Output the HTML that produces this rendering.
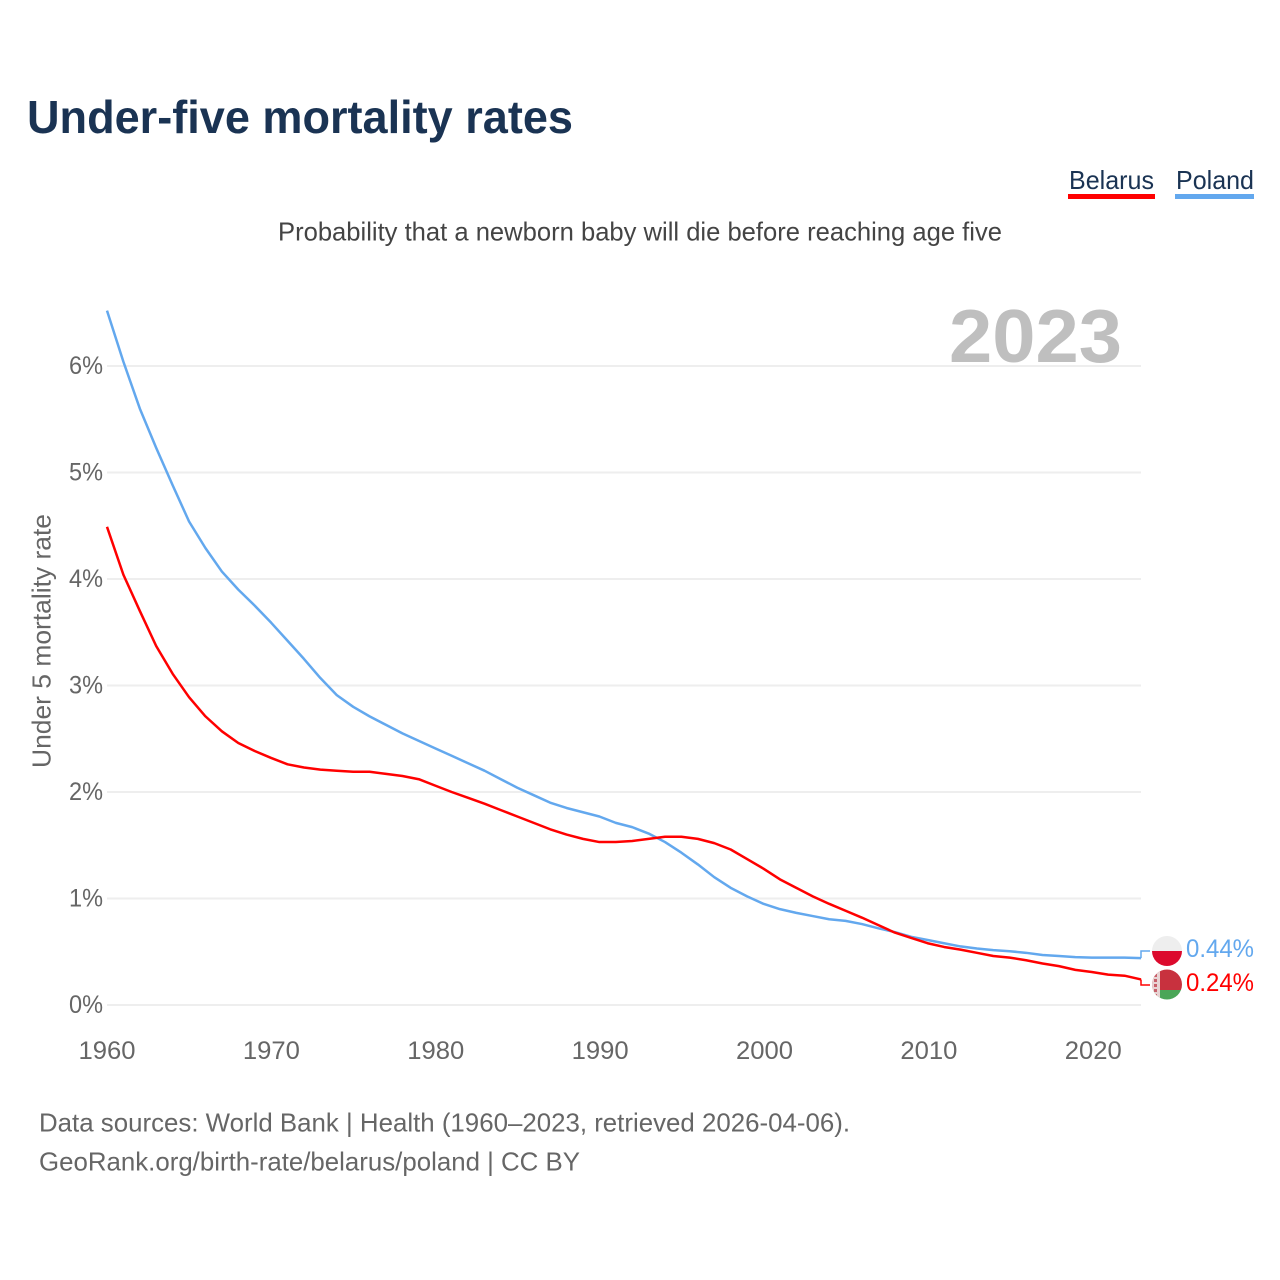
<!DOCTYPE html>
<html lang="en">
<head>
<meta charset="utf-8">
<title>Under-five mortality rates</title>
<style>
html,body{margin:0;padding:0;background:#fff;width:1280px;height:1280px;overflow:hidden}
svg{display:block}
text{font-family:"Liberation Sans",sans-serif}
</style>
</head>
<body>
<svg id="chart" xmlns="http://www.w3.org/2000/svg" width="1280" height="1280" viewBox="0 0 1280 1280">
  <rect width="1280" height="1280" fill="#fff"/>
  <text x="27" y="133" font-size="46" font-weight="700" fill="#1a3353" textLength="546" lengthAdjust="spacingAndGlyphs">Under-five mortality rates</text>
  <text x="278" y="240.5" font-size="26" fill="#444" textLength="724" lengthAdjust="spacingAndGlyphs">Probability that a newborn baby will die before reaching age five</text>

  <g>
    <text x="1069" y="189" font-size="26" fill="#1a3353" textLength="85" lengthAdjust="spacingAndGlyphs">Belarus</text>
    <rect x="1068" y="194" width="87" height="5" fill="#ff0000"/>
  </g>
  <g>
    <text x="1176" y="189" font-size="26" fill="#1a3353" textLength="78" lengthAdjust="spacingAndGlyphs">Poland</text>
    <rect x="1175" y="194" width="79" height="5" fill="#63a8ee"/>
  </g>

  <g id="grid"></g>
  <g id="yticks"></g>
  <g id="xticks"></g>

  <text x="949" y="362" font-size="75" font-weight="700" fill="#bfbfbf" textLength="173" lengthAdjust="spacingAndGlyphs">2023</text>

  <text transform="translate(50.5 768) rotate(-90)" font-size="26" fill="#666" textLength="254" lengthAdjust="spacingAndGlyphs">Under 5 mortality rate</text>

  <g id="series"></g>

  <defs>
    <clipPath id="clip-poland"><circle cx="1167" cy="951" r="15"/></clipPath>
    <clipPath id="clip-belarus"><circle cx="1167" cy="984.5" r="15"/></clipPath>
  </defs>
  <g clip-path="url(#clip-poland)">
    <rect x="1152" y="936" width="30" height="15" fill="#eeeeee"/>
    <rect x="1152" y="951" width="30" height="15" fill="#dc0a2d"/>
  </g>
  <g clip-path="url(#clip-belarus)">
    <rect x="1152" y="969" width="30" height="21" fill="#c8313e"/>
    <rect x="1152" y="990" width="30" height="10" fill="#4aa657"/>
    <rect x="1152" y="969" width="8" height="31" fill="#e8d4d4"/>
    <path d="M1155.5 969v31" stroke="#c8616b" stroke-width="3" stroke-dasharray="3 2" fill="none"/>
  </g>
  <text x="1186" y="957" font-size="25" fill="#63a8ee" textLength="68" lengthAdjust="spacingAndGlyphs">0.44%</text>
  <text x="1186" y="991" font-size="25" fill="#ff0000" textLength="68" lengthAdjust="spacingAndGlyphs">0.24%</text>

  <text x="39" y="1131.5" font-size="26" fill="#666" textLength="811" lengthAdjust="spacingAndGlyphs">Data sources: World Bank | Health (1960–2023, retrieved 2026-04-06).</text>
  <text x="39" y="1170.5" font-size="26" fill="#666" textLength="541" lengthAdjust="spacingAndGlyphs">GeoRank.org/birth-rate/belarus/poland | CC BY</text>
</svg>
<script>
const startYear = 1960;
const polandValues = [6.52,6.04,5.60,5.23,4.88,4.54,4.29,4.07,3.90,3.75,3.59,3.42,3.25,3.07,2.91,2.80,2.71,2.63,2.55,2.48,2.41,2.34,2.27,2.20,2.12,2.04,1.97,1.90,1.85,1.81,1.77,1.71,1.67,1.61,1.53,1.43,1.32,1.20,1.10,1.02,0.95,0.90,0.865,0.835,0.805,0.79,0.76,0.72,0.685,0.64,0.61,0.58,0.55,0.53,0.515,0.505,0.49,0.47,0.46,0.45,0.445,0.445,0.445,0.44];
const belarusValues = [4.49,4.04,3.70,3.37,3.11,2.89,2.71,2.57,2.46,2.385,2.32,2.26,2.23,2.21,2.20,2.19,2.19,2.17,2.15,2.12,2.06,2.00,1.945,1.89,1.83,1.77,1.71,1.65,1.60,1.56,1.53,1.53,1.54,1.56,1.58,1.58,1.56,1.52,1.46,1.37,1.28,1.18,1.10,1.02,0.95,0.885,0.82,0.75,0.68,0.63,0.58,0.545,0.52,0.49,0.46,0.445,0.42,0.39,0.365,0.33,0.31,0.285,0.275,0.24];
const yTickValues = [0,1,2,3,4,5,6];
const xTickYears = [1960,1970,1980,1990,2000,2010,2020];

const NS = 'http://www.w3.org/2000/svg';
const xScale = (year) => 107 + (year - 1960) * (1141 - 107) / 63;
const yScale = (value) => 1005 - value * (1005 - 366) / 6;

const gridGroup = document.getElementById('grid');
const yTickGroup = document.getElementById('yticks');
const xTickGroup = document.getElementById('xticks');
const seriesGroup = document.getElementById('series');

yTickValues.forEach((tick) => {
  const line = document.createElementNS(NS, 'line');
  
  
  line.setAttribute('x1', xScale(1960));
  line.setAttribute('x2', xScale(2023));
  line.setAttribute('y1', yScale(tick));
  line.setAttribute('y2', yScale(tick));
  line.setAttribute('stroke', '#eeeeee');
  line.setAttribute('stroke-width', '2');
  gridGroup.appendChild(line);

  const label = document.createElementNS(NS, 'text');
  
  
  label.setAttribute('x', 69);
  label.setAttribute('y', yScale(tick) + 8);
  label.setAttribute('font-size', '25');
  label.setAttribute('fill', '#666');
  label.setAttribute('textLength', '34');
  label.setAttribute('lengthAdjust', 'spacingAndGlyphs');
  label.textContent = tick + '%';
  yTickGroup.appendChild(label);
});

xTickYears.forEach((year) => {
  const label = document.createElementNS(NS, 'text');
  
  
  label.setAttribute('x', xScale(year) - 28.5 + (year - 1960) * 0.025);
  label.setAttribute('y', 1059);
  label.setAttribute('font-size', '25');
  label.setAttribute('fill', '#666');
  label.setAttribute('textLength', '57');
  label.setAttribute('lengthAdjust', 'spacingAndGlyphs');
  label.textContent = year;
  xTickGroup.appendChild(label);
});

function buildPoints(values) {
  return values.map((v, i) => xScale(startYear + i).toFixed(2) + ',' + yScale(v).toFixed(2)).join(' ');
}

const polandLine = document.createElementNS(NS, 'polyline');


polandLine.setAttribute('points', buildPoints(polandValues));
polandLine.setAttribute('fill', 'none');
polandLine.setAttribute('stroke', '#63a8ee');
polandLine.setAttribute('stroke-width', '2.5');
polandLine.setAttribute('stroke-linejoin', 'round');
seriesGroup.appendChild(polandLine);

const belarusLine = document.createElementNS(NS, 'polyline');


belarusLine.setAttribute('points', buildPoints(belarusValues));
belarusLine.setAttribute('fill', 'none');
belarusLine.setAttribute('stroke', '#ff0000');
belarusLine.setAttribute('stroke-width', '2.5');
belarusLine.setAttribute('stroke-linejoin', 'round');
seriesGroup.appendChild(belarusLine);

const lastX = xScale(2023);
const polandEndY = yScale(polandValues[polandValues.length - 1]);
const belarusEndY = yScale(belarusValues[belarusValues.length - 1]);

const polandLeader = document.createElementNS(NS, 'polyline');


polandLeader.setAttribute('points', lastX + ',' + polandEndY + ' ' + lastX + ',951 1150,951');
polandLeader.setAttribute('fill', 'none');
polandLeader.setAttribute('stroke', '#63a8ee');
polandLeader.setAttribute('stroke-width', '1.5');
seriesGroup.appendChild(polandLeader);

const belarusLeader = document.createElementNS(NS, 'polyline');


belarusLeader.setAttribute('points', lastX + ',' + belarusEndY + ' ' + lastX + ',985 1150,985');
belarusLeader.setAttribute('fill', 'none');
belarusLeader.setAttribute('stroke', '#ff0000');
belarusLeader.setAttribute('stroke-width', '1.5');
seriesGroup.appendChild(belarusLeader);
</script>
</body>
</html>
